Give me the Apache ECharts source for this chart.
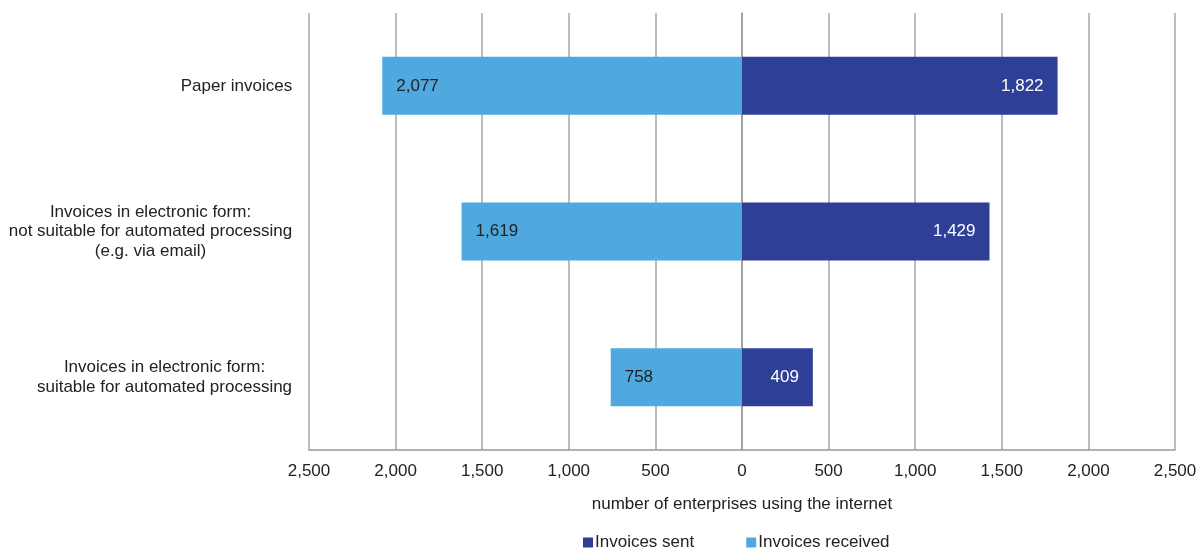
<!DOCTYPE html>
<html><head><meta charset="utf-8">
<script src="https://cdn.jsdelivr.net/npm/echarts@6/dist/echarts.min.js"></script>
<style>html,body{margin:0;padding:0;background:#fff}#c{width:1200px;height:549px}</style>
</head><body><div id="c"></div>
<script>
const categories = [
  "Paper invoices",
  "Invoices in electronic form:\nnot suitable for automated processing\n(e.g. via email)",
  "Invoices in electronic form:\nsuitable for automated processing"
];
const invoicesSent = [1822, 1429, 409];
const invoicesReceived = [2077, 1619, 758];
const xTicks = [-2500, -2000, -1500, -1000, -500, 0, 500, 1000, 1500, 2000, 2500];

const FONT = '"Liberation Sans", Arial, sans-serif';
const FS = 17;
const fmt = v => Math.abs(v).toLocaleString('en-US');

// rich styles so each multi-line label is centred line-by-line, block right-aligned
const ctx = document.createElement('canvas').getContext('2d');
ctx.font = FS + 'px ' + FONT;
const rich = {};
categories.forEach((c, i) => {
  const w = Math.max(...c.split('\n').map(l => ctx.measureText(l).width));
  rich['w' + i] = { width: Math.ceil(w) + 1, align: 'center', fontSize: FS, fontFamily: FONT, color: '#222', lineHeight: 19.5 };
});

const chart = echarts.init(document.getElementById('c'));
chart.setOption({
  animation: false,
  textStyle: { fontFamily: FONT },
  grid: { left: 309, right: 25, top: 13, bottom: 99, containLabel: false },
  legend: {
    top: 529, left: 578, itemWidth: 10, itemHeight: 10, itemGap: 52,
    icon: 'rect',
    textStyle: { fontSize: FS, color: '#222', fontFamily: FONT, padding: [0, 0, 0, -3] },
    data: ['Invoices sent', 'Invoices received']
  },
  xAxis: {
    type: 'value', min: xTicks[0], max: xTicks[xTicks.length - 1], interval: 500,
    name: 'number of enterprises using the internet', nameLocation: 'middle', nameGap: 46,
    nameTextStyle: { fontSize: FS, color: '#222', fontFamily: FONT },
    axisLine: { show: true, lineStyle: { color: '#999', width: 1.5 } },
    axisTick: { show: false },
    axisLabel: { fontSize: FS, color: '#222', margin: 13, formatter: v => fmt(v), fontFamily: FONT },
    splitLine: { show: true, lineStyle: { color: '#a6a6a6', width: 1.5 } }
  },
  yAxis: {
    type: 'category', data: categories, inverse: true,
    axisLine: { show: true, lineStyle: { color: '#999', width: 1.5 } },
    axisTick: { show: false },
    axisLabel: {
      margin: 16,
      formatter: (v, i) => v.split('\n').map(l => '{w' + i + '|' + l + '}').join('\n'),
      rich: rich
    }
  },
  series: [
    {
      name: 'Invoices sent', type: 'bar', stack: 'a', barWidth: 58,
      data: invoicesSent,
      itemStyle: { color: '#2e3f98' },
      label: { show: true, position: 'insideRight', distance: 14, color: '#fff', fontSize: FS, fontFamily: FONT, formatter: p => fmt(p.value) }
    },
    {
      name: 'Invoices received', type: 'bar', stack: 'a', barWidth: 58,
      data: invoicesReceived.map(v => -v),
      itemStyle: { color: '#4fa9df' },
      label: { show: true, position: 'insideLeft', distance: 14, color: '#222', fontSize: FS, fontFamily: FONT, formatter: p => fmt(p.value) }
    }
  ]
});
</script></body></html>
